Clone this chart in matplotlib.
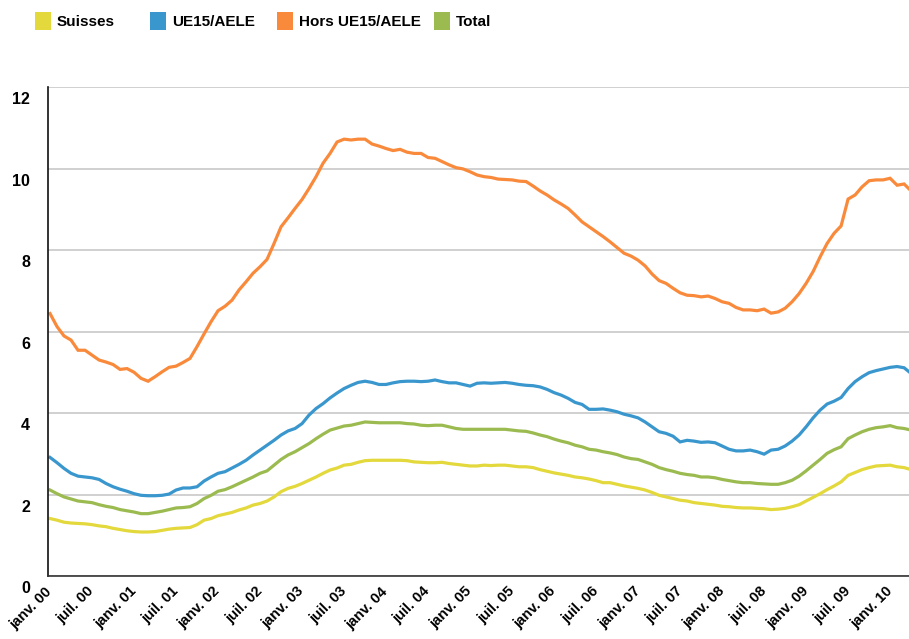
import matplotlib
matplotlib.use('Agg')
import matplotlib.pyplot as plt
import matplotlib.transforms as mtransforms
from matplotlib.patches import Patch

plt.rcParams['font.family'] = ['Liberation Sans', 'DejaVu Sans']

# taux de chomage mensuels, janv. 2000 - avr. 2010
suisses = [1.41, 1.37, 1.32, 1.30, 1.29, 1.28, 1.26, 1.23, 1.21, 1.17, 1.14, 1.11, 1.09, 1.08, 1.08, 1.09,
           1.12, 1.15, 1.17, 1.18, 1.19, 1.26, 1.37, 1.41, 1.48, 1.52, 1.56, 1.62, 1.67, 1.74, 1.78, 1.84,
           1.94, 2.07, 2.15, 2.20, 2.27, 2.35, 2.43, 2.52, 2.60, 2.65, 2.72, 2.74, 2.79, 2.83, 2.84, 2.84,
           2.84, 2.84, 2.84, 2.83, 2.80, 2.79, 2.78, 2.78, 2.79, 2.76, 2.74, 2.72, 2.70, 2.70, 2.72, 2.71,
           2.72, 2.72, 2.70, 2.68, 2.68, 2.66, 2.61, 2.57, 2.53, 2.50, 2.47, 2.43, 2.41, 2.38, 2.34, 2.29,
           2.29, 2.25, 2.21, 2.18, 2.15, 2.11, 2.05, 1.98, 1.94, 1.90, 1.86, 1.84, 1.80, 1.78, 1.76, 1.74,
           1.71, 1.70, 1.68, 1.67, 1.67, 1.66, 1.65, 1.63, 1.64, 1.66, 1.70, 1.75, 1.84, 1.93, 2.02, 2.12,
           2.21, 2.31, 2.47, 2.54, 2.61, 2.66, 2.70, 2.71, 2.72, 2.68, 2.66, 2.61]
ue15 = [2.91, 2.78, 2.64, 2.52, 2.45, 2.43, 2.41, 2.37, 2.27, 2.19, 2.13, 2.08, 2.02, 1.98, 1.97, 1.97,
        1.98, 2.01, 2.11, 2.16, 2.16, 2.19, 2.33, 2.43, 2.52, 2.56, 2.65, 2.74, 2.84, 2.97, 3.09, 3.21,
        3.33, 3.46, 3.56, 3.62, 3.74, 3.95, 4.11, 4.23, 4.37, 4.49, 4.60, 4.68, 4.75, 4.78, 4.75, 4.70,
        4.70, 4.74, 4.77, 4.78, 4.78, 4.77, 4.78, 4.81, 4.77, 4.74, 4.74, 4.70, 4.66, 4.73, 4.74, 4.73,
        4.74, 4.75, 4.73, 4.70, 4.68, 4.67, 4.64, 4.58, 4.50, 4.44, 4.36, 4.26, 4.21, 4.09, 4.09, 4.10,
        4.07, 4.03, 3.97, 3.93, 3.88, 3.78, 3.66, 3.54, 3.50, 3.43, 3.29, 3.33, 3.31, 3.28, 3.29, 3.27,
        3.19, 3.11, 3.07, 3.07, 3.09, 3.05, 2.99, 3.09, 3.11, 3.19, 3.31, 3.46, 3.66, 3.88, 4.07, 4.22,
        4.29, 4.38, 4.60, 4.77, 4.89, 4.99, 5.04, 5.08, 5.12, 5.14, 5.11, 4.97]
hors_ue15 = [6.44, 6.12, 5.89, 5.79, 5.54, 5.54, 5.42, 5.30, 5.25, 5.19, 5.07, 5.09, 5.00, 4.85, 4.78, 4.89,
             5.01, 5.12, 5.15, 5.24, 5.34, 5.63, 5.94, 6.24, 6.51, 6.62, 6.77, 7.02, 7.22, 7.43, 7.59, 7.77,
             8.16, 8.57, 8.79, 9.02, 9.24, 9.51, 9.80, 10.13, 10.37, 10.65, 10.72, 10.70, 10.72, 10.72, 10.60, 10.55,
             10.49, 10.44, 10.47, 10.40, 10.37, 10.37, 10.27, 10.25, 10.17, 10.09, 10.02, 9.99, 9.92, 9.84, 9.80, 9.78,
             9.74, 9.73, 9.72, 9.69, 9.68, 9.57, 9.45, 9.35, 9.23, 9.13, 9.02, 8.86, 8.69, 8.57, 8.45, 8.33,
             8.20, 8.06, 7.92, 7.85, 7.75, 7.61, 7.41, 7.25, 7.18, 7.06, 6.95, 6.89, 6.88, 6.85, 6.87, 6.81,
             6.73, 6.69, 6.59, 6.53, 6.53, 6.51, 6.55, 6.45, 6.48, 6.57, 6.73, 6.93, 7.18, 7.47, 7.83, 8.16,
             8.41, 8.59, 9.25, 9.35, 9.55, 9.70, 9.72, 9.72, 9.76, 9.59, 9.62, 9.45]
total = [2.11, 2.02, 1.94, 1.89, 1.84, 1.82, 1.80, 1.75, 1.71, 1.68, 1.63, 1.60, 1.57, 1.53, 1.53, 1.56,
         1.59, 1.63, 1.67, 1.68, 1.70, 1.78, 1.90, 1.98, 2.08, 2.12, 2.19, 2.27, 2.35, 2.43, 2.52, 2.58,
         2.72, 2.86, 2.97, 3.05, 3.15, 3.25, 3.37, 3.48, 3.58, 3.63, 3.68, 3.70, 3.74, 3.78, 3.77, 3.76,
         3.76, 3.76, 3.76, 3.74, 3.73, 3.70, 3.69, 3.70, 3.70, 3.66, 3.62, 3.60, 3.60, 3.60, 3.60, 3.60,
         3.60, 3.60, 3.58, 3.56, 3.55, 3.51, 3.46, 3.42, 3.36, 3.31, 3.27, 3.21, 3.17, 3.11, 3.09, 3.05,
         3.02, 2.98, 2.92, 2.88, 2.86, 2.80, 2.74, 2.66, 2.61, 2.57, 2.52, 2.49, 2.47, 2.43, 2.43, 2.41,
         2.37, 2.34, 2.31, 2.29, 2.29, 2.27, 2.26, 2.25, 2.25, 2.29, 2.35, 2.45, 2.58, 2.72, 2.86, 3.01,
         3.10, 3.17, 3.37, 3.46, 3.54, 3.60, 3.64, 3.66, 3.69, 3.64, 3.62, 3.58]

annees = ['00', '01', '02', '03', '04', '05', '06', '07', '08', '09', '10']
etiquettes = []
for a in annees:
    etiquettes += ['janv. ' + a, 'juil. ' + a]
etiquettes = etiquettes[:21]

series = [('Suisses', suisses, '#E3D83C'),
          ('UE15/AELE', ue15, '#3A97CE'),
          ('Hors UE15/AELE', hors_ue15, '#F98A3B'),
          ('Total', total, '#9BBB50')]

fig = plt.figure(figsize=(9.09, 6.39), dpi=100)
ax = fig.add_axes([48/909, 63/639, 861/909, 489/639])

mois = list(range(len(suisses)))
for nom, val, col in series:
    ax.plot(mois, val, color=col, lw=2.3, solid_joinstyle='miter')

ax.set_xlim(-0.29, 122.7)
ax.set_ylim(0, 12)
ax.set_yticks(range(0, 13, 2))
ax.set_xticks(range(0, 121, 6))
ax.set_xticklabels(etiquettes, rotation=45, ha='right', va='top', rotation_mode='anchor',
                   fontsize=10.5, fontweight='bold')
ax.tick_params(axis='x', length=0, pad=6)
ax.tick_params(axis='y', length=0, pad=13, labelsize=11.5)
for lab in ax.get_xticklabels():
    lab.set_transform(lab.get_transform() + mtransforms.ScaledTranslation(-5/100, 0, fig.dpi_scale_trans))
for lab in ax.get_yticklabels():
    lab.set_fontweight('bold')
    lab.set_transform(lab.get_transform() + mtransforms.ScaledTranslation(0, -8/72, fig.dpi_scale_trans))

ax.grid(axis='y', color='#C8C8C8', lw=1.2)
ax.set_axisbelow(True)
for s in ['top', 'right']:
    ax.spines[s].set_visible(False)
ax.spines['left'].set_color('#111111')
ax.spines['bottom'].set_color('#333333')
ax.spines['left'].set_linewidth(1.2)
ax.spines['bottom'].set_linewidth(1.2)

# une entree de legende par serie, placees comme dans l'original
pos_legende = [21, 136, 263, 420]
for (nom, val, col), xp in zip(series, pos_legende):
    leg = fig.legend([Patch(facecolor=col, edgecolor='none')], [nom], loc='upper left',
                     bbox_to_anchor=(xp/909, 1 + 2/639), frameon=False,
                     prop={'weight': 'bold', 'size': 11},
                     handlelength=1.05, handleheight=1.45, handletextpad=0.4)

fig.savefig('out.png', dpi=100)
